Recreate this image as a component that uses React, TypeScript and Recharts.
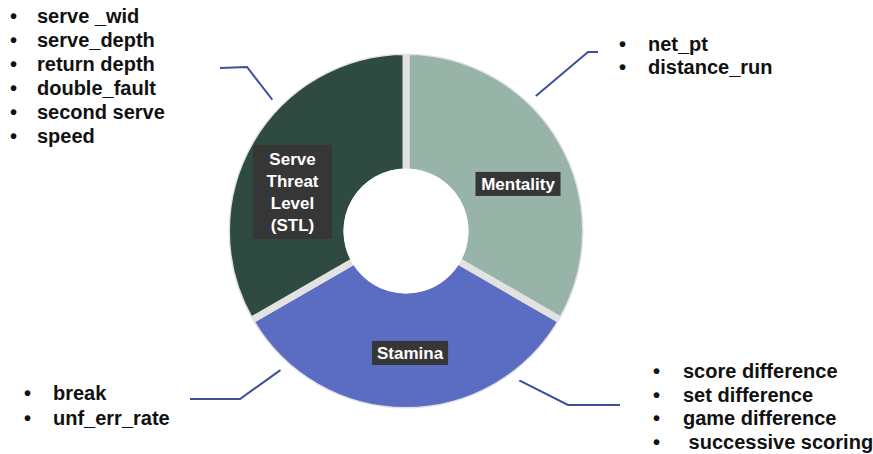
import { PieChart, Pie, Cell } from "recharts";

// segments of the ring, all equal share
const segments = ["Mentality", "Stamina", "Serve Threat Level (STL)"];
const segmentValues = [1, 1, 1];
const segmentColors = ["#98b3a8", "#5a6dc2", "#2f4a40"];

// factors feeding each segment
const mentalityFactors = ["net_pt", "distance_run"];
const staminaFactorsRight = ["score difference", "set difference", "game difference", " successive scoring"];
const staminaFactorsLeft = ["break", "unf_err_rate"];
const stlFactors = ["serve _wid", "serve_depth", "return depth", "double_fault", "second serve", "speed"];

const W = 873;
const H = 454;
const CX = 406;
const CY = 231;
const FONT = "'Liberation Sans', Arial, Helvetica, sans-serif";
const LINE_BLUE = "#3b4f9c";
const RAD = Math.PI / 180;
const GAP = 7;
const INNER = 59;
const OUTER = 179.5;

const data = segments.map((name, i) => ({ name, value: segmentValues[i] }));
const whole = [{ name: "all", value: 1 }];

// label box placement per segment (angle nudge from midAngle, radius, box size)
const LABEL_LAYOUT = [
  { nudge: -7.2, r: 121.5, w: 85, h: 24 },
  { nudge: 1.9, r: 122, w: 76, h: 24 },
  { nudge: 11, r: 120, w: 79, h: 94 },
];

function renderSegmentLabel(props: any) {
  const { cx, cy, midAngle, index } = props;
  const lay = LABEL_LAYOUT[index];
  const a = (midAngle + lay.nudge) * RAD;
  const x = cx + lay.r * Math.cos(a);
  const y = cy - lay.r * Math.sin(a);
  const lines = segments[index].split(" ");
  const lh = 22;
  return (
    <g key={`lbl-${index}`}>
      <rect x={x - lay.w / 2} y={y - lay.h / 2} width={lay.w} height={lay.h} fill="#363636" />
      <text
        fill="#ffffff"
        fontFamily={FONT}
        fontWeight="bold"
        fontSize={17}
        textAnchor="middle"
      >
        {lines.map((l, i) => (
          <tspan key={i} x={x} y={y + (i - (lines.length - 1) / 2) * lh + 6}>
            {l}
          </tspan>
        ))}
      </text>
    </g>
  );
}

// callouts: where the leader leaves the ring, its elbow and end, then the list
const callouts = [
  { angle: 136, r: 176, elbow: [247, 67], end: [220, 68], items: stlFactors, bx: 10, tx: 37, y0: 23, dy: 24 },
  { angle: 46.3, r: 182, elbow: [588, 52], end: [598, 52], items: mentalityFactors, bx: 619, tx: 648, y0: 51, dy: 23 },
  { angle: -54, r: 180, elbow: [568, 405], end: [620, 405], items: staminaFactorsRight, bx: 653, tx: 683, y0: 378, dy: 23.5 },
  { angle: -131.7, r: 182, elbow: [240, 399], end: [190, 399], items: staminaFactorsLeft, bx: 24, tx: 53, y0: 400, dy: 25 },
];

function Callouts() {
  return (
    <g>
      {callouts.map((c, i) => {
        const sx = CX + c.r * Math.cos(c.angle * RAD);
        const sy = CY - c.r * Math.sin(c.angle * RAD);
        return (
          <g key={i}>
            <polyline
              points={`${sx},${sy} ${c.elbow[0]},${c.elbow[1]} ${c.end[0]},${c.end[1]}`}
              fill="none"
              stroke={LINE_BLUE}
              strokeWidth={2}
            />
            {c.items.map((t, j) => (
              <g key={j}>
                <text x={c.bx} y={c.y0 + j * c.dy} fontFamily={FONT} fontWeight="bold" fontSize={20} fill="#111">
                  •
                </text>
                <text
                  x={c.tx}
                  y={c.y0 + j * c.dy}
                  fontFamily={FONT}
                  fontWeight="bold"
                  fontSize={20}
                  fill="#111"
                  style={{ whiteSpace: "pre" }}
                >
                  {t}
                </text>
              </g>
            ))}
          </g>
        );
      })}
    </g>
  );
}

export default function App() {
  return (
    <div style={{ width: W, height: H, background: "#fff" }}>
      <style>{"body{margin:0}"}</style>
      <PieChart width={W} height={H} margin={{ top: 0, right: 0, bottom: 0, left: 0 }}>
        <Pie
          data={data}
          dataKey="value"
          nameKey="name"
          cx={CX}
          cy={CY}
          innerRadius={INNER}
          outerRadius={OUTER}
          startAngle={90}
          endAngle={-270}
          stroke="#e2e2e2"
          strokeWidth={GAP}
          label={false}
          labelLine={false}
          isAnimationActive={false}
        >
          {data.map((d, i) => (
            <Cell key={d.name} fill={segmentColors[i]} />
          ))}
        </Pie>
        {/* white ring and disc hide the stroke along the outer and inner arcs */}
        <Pie
          data={whole}
          dataKey="value"
          cx={CX}
          cy={CY}
          innerRadius={OUTER - GAP / 2 + 1.5}
          outerRadius={OUTER + 8}
          startAngle={90}
          endAngle={-270}
          fill="#ffffff"
          stroke="none"
          isAnimationActive={false}
        />
        <Pie
          data={whole}
          dataKey="value"
          cx={CX}
          cy={CY}
          innerRadius={0}
          outerRadius={INNER + GAP / 2}
          startAngle={90}
          endAngle={-270}
          fill="#ffffff"
          stroke="none"
          isAnimationActive={false}
        />
        <Pie
          data={data}
          dataKey="value"
          nameKey="name"
          cx={CX}
          cy={CY}
          innerRadius={INNER}
          outerRadius={OUTER}
          startAngle={90}
          endAngle={-270}
          fill="none"
          stroke="none"
          label={renderSegmentLabel}
          labelLine={false}
          isAnimationActive={false}
        />
        <Callouts />
      </PieChart>
    </div>
  );
}
